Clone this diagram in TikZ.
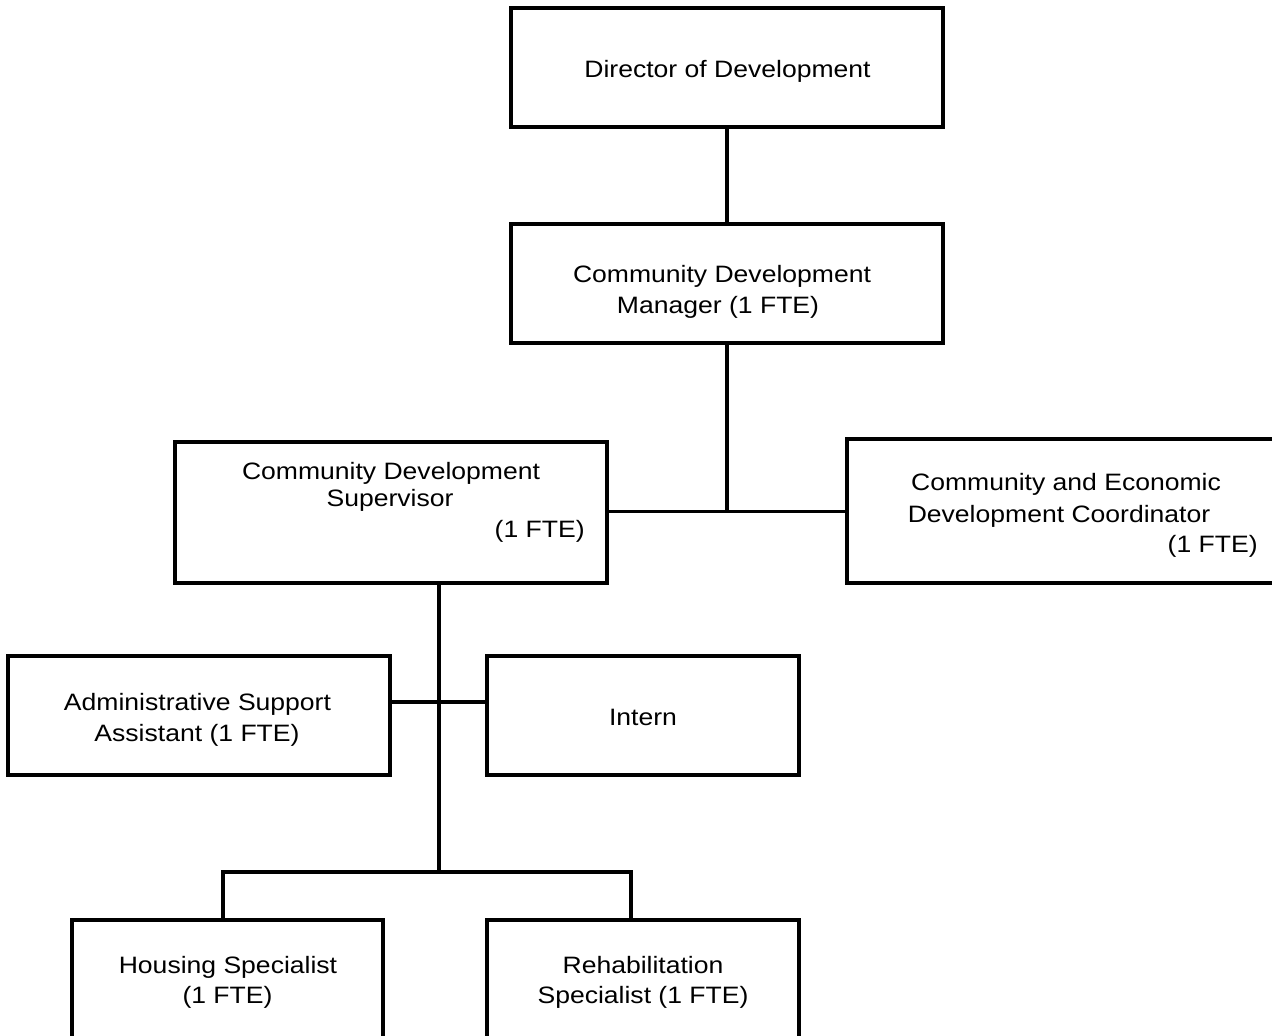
\documentclass[tikz,border=0pt]{standalone}
\usepackage{fontspec}
\setmainfont[FakeStretch=1.12]{Liberation Sans}
\begin{document}
\begin{tikzpicture}[x=0.5pt,y=-0.5pt,
  box/.style={draw=black,line width=1.55pt,rectangle,inner sep=0pt,outer sep=0pt},
  lbl/.style={anchor=base,inner sep=0pt,font=\fontsize{11.85pt}{15.4pt}\selectfont},
  link/.style={draw=black,line width=1.55pt}]
\useasboundingbox (0,0) rectangle (1272,1035);
\fill[white] (0,0) rectangle (1272,1035);
\clip (0,0) rectangle (1272,1035);

% boxes (centre, width and height in pixels of the layout grid)
\node[box,minimum width=216pt,minimum height=59.5pt] (dir) at (727,67.5) {};
\node[box,minimum width=216pt,minimum height=59.5pt] (mgr) at (727,283.5) {};
\node[box,minimum width=216pt,minimum height=70.5pt] (sup) at (391,512.5) {};
\node[box,minimum width=216.5pt,minimum height=72pt] (ced) at (1063.5,511) {};
\node[box,minimum width=191pt,minimum height=59.5pt] (adm) at (199,715.5) {};
\node[box,minimum width=156pt,minimum height=59.5pt] (int) at (643,715.5) {};
\node[box,minimum width=155.5pt,minimum height=60pt] (hou) at (227.5,980) {};
\node[box,minimum width=156pt,minimum height=60pt] (reh) at (643,980) {};

% labels
\node[lbl] (dirA) at (727.5,77) {Director of Development};
\node[lbl] (mgrA) at (722,282) {Community Development};
\node[lbl] (mgrB) at (718,313) {Manager (1 FTE)};
\node[lbl] (supA) at (391,479) {Community Development};
\node[lbl] (supB) at (390,506) {Supervisor};
\node[lbl,anchor=base east] (supC) at (585,537) {(1 FTE)};
\node[lbl] (cedA) at (1066,490) {Community and Economic};
\node[lbl] (cedB) at (1059,522) {Development Coordinator};
\node[lbl,anchor=base east] (cedC) at (1258,552) {(1 FTE)};
\node[lbl] (admA) at (197.5,710) {Administrative Support};
\node[lbl] (admB) at (197,741) {Assistant (1 FTE)};
\node[lbl] (intA) at (643,725) {Intern};
\node[lbl] (houA) at (228,973) {Housing Specialist};
\node[lbl] (houB) at (227.5,1003) {(1 FTE)};
\node[lbl] (rehA) at (643,973) {Rehabilitation};
\node[lbl] (rehB) at (643,1003) {Specialist (1 FTE)};

% junction points
\coordinate (j1) at (727,511.5);
\coordinate (j2) at (439,702);
\coordinate (j3) at (439,872);
\coordinate (hb) at (223,872);
\coordinate (rb) at (631,872);

% connectors
\path[link] (dir.south) -- (mgr.north);
\path[link] (mgr.south) -- (j1);
\path[link] (sup.east |- j1) -- (ced.west |- j1);
\path[link] (sup.south -| j2) -- (j3);
\path[link] (adm.east |- j2) -- (int.west |- j2);
\path[link] (hb |- hou.north) -- (hb) -- (rb) -- (rb |- reh.north);
\end{tikzpicture}
\end{document}
